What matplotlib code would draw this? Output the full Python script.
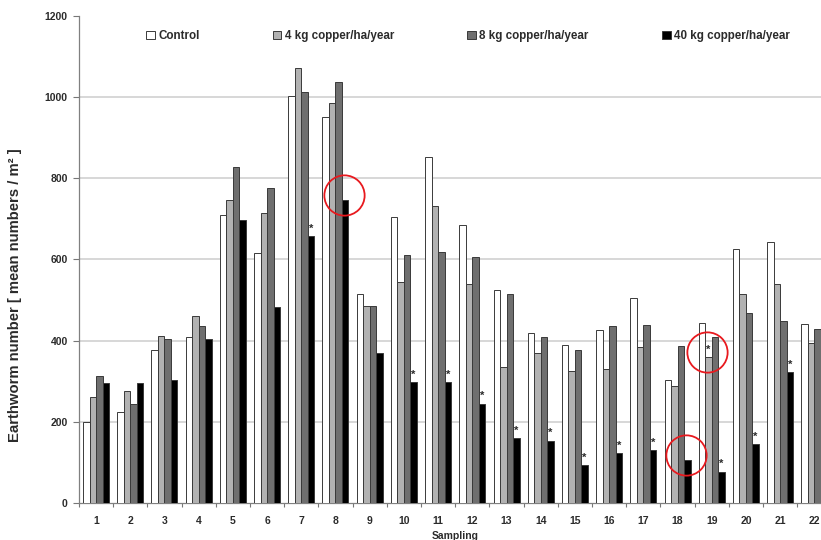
import matplotlib
matplotlib.use('Agg')
import matplotlib.pyplot as plt
import numpy as np

plt.rcParams['font.family'] = ['Liberation Sans', 'DejaVu Sans']
plt.rcParams['font.weight'] = 'bold'
plt.rcParams['axes.labelweight'] = 'bold'

samplings = [str(i) for i in range(1, 23)]
series_names = ['Control', '4 kg copper/ha/year', '8 kg copper/ha/year', '40 kg copper/ha/year']

control = [200, 225, 377, 409, 710, 616, 1002, 951, 514, 704, 853, 685,
           525, 418, 389, 426, 504, 303, 443, 625, 642, 441]
cu4 = [260, 277, 412, 462, 747, 715, 1073, 985, 485, 545, 731, 539,
       334, 369, 325, 330, 385, 289, 359, 516, 539, 394]
cu8 = [312, 243, 405, 437, 827, 775, 1012, 1038, 485, 611, 618, 607,
       516, 409, 376, 437, 439, 386, 410, 467, 448, 428]
cu40 = [296, 296, 303, 403, 697, 483, 657, 746, 369, 298, 298, 245,
        160, 154, 93, 122, 130, 106, 77, 145, 323, 203]

# significant differences (sampling number, series index)
stars = [(7, 3), (10, 3), (11, 3), (12, 3), (13, 3), (14, 3), (15, 3), (16, 3),
         (17, 3), (19, 1), (19, 3), (20, 3), (21, 3)]
# red circles drawn on the original (sampling number, series index)
circled = [(8, 3), (18, 3), (19, 1)]

colors = ['white', '#b2b2b2', '#6f6f6f', 'black']
edge = '#3a3a3a'
text_col = '#2b2b2b'

data = [control, cu4, cu8, cu40]
x = np.arange(1, len(samplings) + 1)
w = 0.19
offsets = [-1.5 * w, -0.5 * w, 0.5 * w, 1.5 * w]

fig = plt.figure(figsize=(8.21, 5.40), dpi=100)
ax = fig.add_axes([0.0962, 0.0685, 0.9165, 0.9019])

for vals, col, off, name in zip(data, colors, offsets, series_names):
    ax.bar(x + off, vals, width=w, color=col, edgecolor=edge, linewidth=0.7,
           label=name, zorder=3)

for s, k in stars:
    ax.text(s + offsets[k], data[k][s - 1] + 6, '*', ha='center', va='bottom',
            fontsize=8, color=text_col, zorder=4)

for s, k in circled:
    ax.plot(s + offsets[k] - 0.03, data[k][s - 1] + 12, marker='o', markersize=29,
            markerfacecolor='none', markeredgecolor='#e8191e', markeredgewidth=1.3,
            zorder=5, clip_on=False)

ax.set_xlim(0.5, len(samplings) + 0.5)
ax.set_ylim(0, 1200)
ax.set_yticks(np.arange(0, 1201, 200))
ax.set_xticks(np.arange(0.5, len(samplings) + 0.6, 1))
ax.set_xticklabels([])
ax.set_xticks(x, minor=True)
ax.set_xticklabels(samplings, minor=True)
ax.tick_params(axis='x', which='major', length=3, width=0.8, color='#777777')
ax.tick_params(axis='x', which='minor', length=0, pad=9, labelsize=7.5, labelcolor=text_col)
ax.tick_params(axis='y', length=4, width=0.8, color='#777777', labelsize=7.5,
               labelcolor=text_col, pad=4)

for yv in range(200, 1001, 200):
    ax.axhline(yv, color='#d4d4d4', linewidth=1.3, zorder=1)

for side in ['top', 'right']:
    ax.spines[side].set_visible(False)
for side in ['left', 'bottom']:
    ax.spines[side].set_color('#808080')
    ax.spines[side].set_linewidth(0.9)

ax.set_ylabel('Earthworm number [ mean numbers / m² ]', fontsize=10.7, color=text_col)
ax.yaxis.set_label_coords(-0.076, 0.427)
ax.set_xlabel('Sampling', fontsize=7.5, color=text_col, labelpad=4)

leg = fig.legend(loc='center left', bbox_to_anchor=(0.178, 0.933), ncol=4,
                 frameon=False, fontsize=8.4, handlelength=0.75, handleheight=0.75,
                 handletextpad=0.3, columnspacing=6.25, borderpad=0, borderaxespad=0)
for t in leg.get_texts():
    t.set_color(text_col)

fig.savefig('out.png', dpi=100)
